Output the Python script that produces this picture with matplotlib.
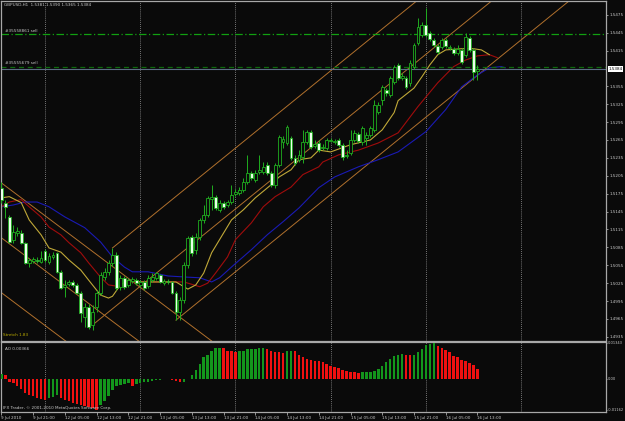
import numpy as np
import matplotlib
matplotlib.use("Agg")
import matplotlib.pyplot as plt
from matplotlib.transforms import blended_transform_factory

# GBPUSD H1 bars, 9 Jul 13:00 .. 16 Jul 13:00
opens = [1.5185, 1.5160, 1.5136, 1.5098, 1.5109, 1.5109, 1.5093, 1.5059, 1.5062, 1.5064,
         1.5061, 1.5079, 1.5061, 1.5069, 1.5076, 1.5044, 1.5019, 1.5024, 1.5027, 1.5022,
         1.5009, 1.4968, 1.4985, 1.4955, 1.4985, 1.5009, 1.5035, 1.5044, 1.5059, 1.5072,
         1.5019, 1.5034, 1.5022, 1.5029, 1.5030, 1.5022, 1.5027, 1.5020, 1.5030, 1.5034,
         1.5039, 1.5025, 1.5029, 1.5027, 1.5009, 1.4977, 1.4997, 1.5056, 1.5103, 1.5081,
         1.5103, 1.5131, 1.5139, 1.5166, 1.5170, 1.5148, 1.5160, 1.5156, 1.5161, 1.5175,
         1.5176, 1.5181, 1.5195, 1.5210, 1.5198, 1.5212, 1.5212, 1.5223, 1.5210, 1.5190,
         1.5223, 1.5262, 1.5260, 1.5269, 1.5235, 1.5232, 1.5237, 1.5262, 1.5279, 1.5255,
         1.5260, 1.5252, 1.5252, 1.5264, 1.5262, 1.5265, 1.5257, 1.5238, 1.5243, 1.5265,
         1.5275, 1.5262, 1.5269, 1.5274, 1.5282, 1.5312, 1.5332, 1.5349, 1.5341, 1.5362,
         1.5391, 1.5369, 1.5369, 1.5361, 1.5388, 1.5428, 1.5441, 1.5458, 1.5445, 1.5433,
         1.5423, 1.5421, 1.5433, 1.5420, 1.5418, 1.5411, 1.5416, 1.5408, 1.5436, 1.5416,
         1.5381]
highs = [1.5195, 1.5165, 1.5139, 1.5123, 1.5119, 1.5114, 1.5094, 1.5067, 1.5069, 1.5069,
         1.5079, 1.5082, 1.5076, 1.5077, 1.5077, 1.5047, 1.5030, 1.5030, 1.5030, 1.5025,
         1.5012, 1.4992, 1.4990, 1.4989, 1.5014, 1.5044, 1.5051, 1.5064, 1.5084, 1.5077,
         1.5039, 1.5037, 1.5034, 1.5035, 1.5034, 1.5030, 1.5030, 1.5039, 1.5042, 1.5044,
         1.5041, 1.5032, 1.5032, 1.5029, 1.5012, 1.5001, 1.5061, 1.5104, 1.5106, 1.5109,
         1.5134, 1.5156, 1.5171, 1.5190, 1.5173, 1.5165, 1.5163, 1.5165, 1.5190, 1.5183,
         1.5186, 1.5201, 1.5240, 1.5213, 1.5215, 1.5240, 1.5228, 1.5228, 1.5213, 1.5227,
         1.5274, 1.5272, 1.5290, 1.5272, 1.5240, 1.5248, 1.5282, 1.5282, 1.5282, 1.5265,
         1.5265, 1.5259, 1.5269, 1.5269, 1.5267, 1.5269, 1.5260, 1.5248, 1.5282, 1.5282,
         1.5279, 1.5289, 1.5279, 1.5289, 1.5332, 1.5329, 1.5357, 1.5352, 1.5373, 1.5391,
         1.5394, 1.5378, 1.5373, 1.5399, 1.5428, 1.5470, 1.5463, 1.5487, 1.5448, 1.5436,
         1.5426, 1.5436, 1.5436, 1.5425, 1.5421, 1.5425, 1.5420, 1.5445, 1.5440, 1.5420,
         1.5390]
lows = [1.5160, 1.5134, 1.5093, 1.5093, 1.5104, 1.5091, 1.5057, 1.5052, 1.5059, 1.5059,
        1.5059, 1.5061, 1.5057, 1.5066, 1.5042, 1.5015, 1.5002, 1.5020, 1.5019, 1.5007,
        1.4960, 1.4952, 1.4948, 1.4947, 1.4977, 1.5005, 1.5030, 1.5039, 1.5054, 1.5014,
        1.5014, 1.5015, 1.5019, 1.5025, 1.5022, 1.5019, 1.5014, 1.5017, 1.5027, 1.5030,
        1.5025, 1.5022, 1.5024, 1.5007, 1.4963, 1.4963, 1.4992, 1.5051, 1.5071, 1.5074,
        1.5098, 1.5126, 1.5136, 1.5148, 1.5148, 1.5144, 1.5150, 1.5153, 1.5158, 1.5171,
        1.5173, 1.5178, 1.5191, 1.5198, 1.5195, 1.5208, 1.5208, 1.5207, 1.5186, 1.5185,
        1.5220, 1.5252, 1.5257, 1.5232, 1.5223, 1.5228, 1.5227, 1.5259, 1.5250, 1.5252,
        1.5245, 1.5248, 1.5248, 1.5262, 1.5259, 1.5254, 1.5232, 1.5235, 1.5240, 1.5262,
        1.5260, 1.5257, 1.5257, 1.5270, 1.5279, 1.5309, 1.5324, 1.5339, 1.5337, 1.5359,
        1.5366, 1.5366, 1.5351, 1.5356, 1.5384, 1.5425, 1.5438, 1.5438, 1.5431, 1.5421,
        1.5409, 1.5418, 1.5420, 1.5416, 1.5408, 1.5408, 1.5393, 1.5404, 1.5413, 1.5366,
        1.5365]
closes = [1.5165, 1.5153, 1.5094, 1.5111, 1.5113, 1.5093, 1.5059, 1.5064, 1.5066, 1.5062,
          1.5067, 1.5064, 1.5071, 1.5072, 1.5044, 1.5017, 1.5022, 1.5027, 1.5022, 1.5009,
          1.4975, 1.4985, 1.4952, 1.4977, 1.5009, 1.5039, 1.5044, 1.5059, 1.5072, 1.5017,
          1.5034, 1.5019, 1.5030, 1.5032, 1.5025, 1.5027, 1.5017, 1.5034, 1.5035, 1.5042,
          1.5027, 1.5029, 1.5027, 1.5009, 1.4977, 1.4997, 1.5056, 1.5101, 1.5076, 1.5103,
          1.5131, 1.5139, 1.5168, 1.5170, 1.5151, 1.5160, 1.5153, 1.5161, 1.5173, 1.5178,
          1.5181, 1.5195, 1.5210, 1.5201, 1.5210, 1.5215, 1.5220, 1.5210, 1.5190, 1.5223,
          1.5270, 1.5266, 1.5287, 1.5235, 1.5227, 1.5240, 1.5262, 1.5279, 1.5254, 1.5259,
          1.5248, 1.5254, 1.5265, 1.5265, 1.5264, 1.5257, 1.5237, 1.5240, 1.5265, 1.5277,
          1.5264, 1.5285, 1.5274, 1.5285, 1.5324, 1.5324, 1.5354, 1.5344, 1.5369, 1.5388,
          1.5369, 1.5373, 1.5354, 1.5394, 1.5425, 1.5455, 1.5458, 1.5441, 1.5435, 1.5425,
          1.5413, 1.5433, 1.5423, 1.5421, 1.5411, 1.5418, 1.5396, 1.5438, 1.5416, 1.5379,
          1.5384]

# Awesome oscillator values per bar
ao = [0.0019, 0.0015, -0.0011, -0.0015, -0.0027, -0.0038, -0.0053, -0.0061, -0.0065, -0.0072,
      -0.0076, -0.0080, -0.0072, -0.0068, -0.0061, -0.0072, -0.0080, -0.0084, -0.0091, -0.0095,
      -0.0099, -0.0103, -0.0105, -0.0108, -0.0116, -0.0099, -0.0084, -0.0065, -0.0042, -0.0027,
      -0.0023, -0.0019, -0.0017, -0.0027, -0.0019, -0.0015, -0.0011, -0.0010, -0.0008, -0.0006,
      -0.0004, -0.0002, 0.0001, -0.0004, -0.0008, -0.0011, -0.0010, 0.0001, 0.0015, 0.0034,
      0.0057, 0.0080, 0.0091, 0.0103, 0.0114, 0.0115, 0.0114, 0.0106, 0.0104, 0.0102,
      0.0104, 0.0106, 0.0110, 0.0111, 0.0112, 0.0114, 0.0115, 0.0110, 0.0103, 0.0100,
      0.0099, 0.0098, 0.0103, 0.0106, 0.0103, 0.0091, 0.0080, 0.0076, 0.0070, 0.0068,
      0.0067, 0.0065, 0.0057, 0.0049, 0.0046, 0.0042, 0.0034, 0.0030, 0.0027, 0.0026,
      0.0023, 0.0025, 0.0026, 0.0027, 0.0030, 0.0038, 0.0049, 0.0065, 0.0076, 0.0087,
      0.0091, 0.0092, 0.0089, 0.0088, 0.0091, 0.0099, 0.0110, 0.0125, 0.0130, 0.0134,
      0.0124, 0.0116, 0.0108, 0.0099, 0.0087, 0.0080, 0.0072, 0.0067, 0.0061, 0.0053,
      0.00366]

# Alligator lines (shifted forward past last bar)
lips_idx = [0, 2, 5, 7, 10, 12, 15, 17, 20, 22, 25, 27, 28, 30, 32, 35, 40, 44, 46, 47,
            49, 51, 53, 56, 58, 61, 64, 68, 70, 73, 75, 78, 80, 83, 88, 93, 96, 99, 100, 104,
            106, 108, 110, 112, 116, 119, 121, 123]
lips_val = [1.5168, 1.5170, 1.5160, 1.5131, 1.5106, 1.5084, 1.5077, 1.5064, 1.5047, 1.5030,
            1.5005, 1.5000, 1.5003, 1.5022, 1.5030, 1.5027, 1.5027, 1.5027, 1.5019, 1.5015,
            1.5022, 1.5042, 1.5076, 1.5109, 1.5131, 1.5148, 1.5168, 1.5190, 1.5203, 1.5215,
            1.5232, 1.5235, 1.5248, 1.5245, 1.5257, 1.5265, 1.5282, 1.5311, 1.5331, 1.5352,
            1.5371, 1.5391, 1.5408, 1.5416, 1.5418, 1.5418, 1.5416, 1.5408]
teeth_idx = [0, 2, 5, 7, 10, 12, 15, 17, 20, 22, 25, 27, 30, 32, 35, 46, 50, 52, 54, 57,
             59, 63, 66, 69, 73, 76, 80, 81, 85, 90, 95, 100, 105, 110, 114, 117, 120, 123, 125]
teeth_val = [1.5153, 1.5161, 1.5165, 1.5153, 1.5136, 1.5119, 1.5106, 1.5093, 1.5076, 1.5059,
             1.5035, 1.5022, 1.5019, 1.5027, 1.5027, 1.5027, 1.5019, 1.5025, 1.5042, 1.5069,
             1.5098, 1.5126, 1.5153, 1.5170, 1.5186, 1.5207, 1.5220, 1.5228, 1.5240, 1.5248,
             1.5260, 1.5277, 1.5321, 1.5361, 1.5388, 1.5399, 1.5406, 1.5408, 1.5403]
jaw_idx = [0, 3, 6, 9, 12, 16, 21, 25, 28, 31, 33, 37, 42, 47, 50, 53, 55, 58, 63, 67,
           71, 75, 80, 84, 90, 95, 100, 107, 112, 116, 120, 123, 126, 127]
jaw_val = [1.5153, 1.5156, 1.5161, 1.5161, 1.5153, 1.5136, 1.5118, 1.5094, 1.5069, 1.5052,
           1.5044, 1.5044, 1.5037, 1.5035, 1.5034, 1.5027, 1.5034, 1.5052, 1.5081, 1.5106,
           1.5128, 1.5151, 1.5185, 1.5203, 1.5220, 1.5232, 1.5245, 1.5279, 1.5316, 1.5354,
           1.5374, 1.5386, 1.5388, 1.5386]

# channel lines: descending (price at bar 0) and rising rays from pivots
down_start = [1.5193, 1.5101, 1.5009]
down_slope = -0.0005
up_start_idx = [23, 28, 44]
up_start_val = [1.4955, 1.5084, 1.4963]
up_slope = 0.00054

orders = [("#35558861 sell", 1.5443, "#11a011", (0, (6, 2, 1, 2))),
          ("#35555679 sell", 1.5388, "#0d6a0d", (0, (4, 3)))]
bid = 1.5384

price_ticks = [1.5475, 1.5445, 1.5415, 1.5355, 1.5325, 1.5295, 1.5265, 1.5235, 1.5205,
               1.5175, 1.5145, 1.5115, 1.5085, 1.5055, 1.5025, 1.4995, 1.4965, 1.4935]
ao_ticks = [0.01343, 0.0, -0.01162]
ao_tick_lbl = ["0.01343", "0.00", "-0.01162"]
day_lines = [11, 35, 59, 83, 107, 131]
time_idx = [0, 8, 16, 24, 32, 40, 48, 56, 64, 72, 80, 88, 96, 104, 112, 120]
time_lbl = ["9 Jul 2010", "9 Jul 21:00", "12 Jul 05:00", "12 Jul 13:00", "12 Jul 21:00",
            "13 Jul 05:00", "13 Jul 13:00", "13 Jul 21:00", "14 Jul 05:00", "14 Jul 13:00",
            "14 Jul 21:00", "15 Jul 05:00", "15 Jul 13:00", "15 Jul 21:00", "16 Jul 05:00",
            "16 Jul 13:00"]

BG = "#0a0a0a"
FRAME = "#a8a8a8"
TXT = "#c8c8c8"
CANDLE = "#1fae1f"
FS = 3.0

W, H = 625, 421
fig = plt.figure(figsize=(W / 100, H / 100), dpi=100, facecolor=BG)
ax = fig.add_axes([1 / W, (H - 341) / H, 605 / W, 340 / H], facecolor=BG)
ax2 = fig.add_axes([1 / W, (H - 412) / H, 605 / W, 70 / H], facecolor=BG, sharex=ax)

o = np.array(opens)
c = np.array(closes)
idx = np.arange(len(o))

# candles
ax.vlines(idx, lows, highs, color=CANDLE, lw=0.7, zorder=3)
faces = np.where(c >= o, "#0a0a0a", "#eaffea")
ax.bar(idx, np.abs(c - o), bottom=np.minimum(o, c), width=0.72, color=faces,
       edgecolor=CANDLE, linewidth=0.6, zorder=4)

# alligator
ax.plot(jaw_idx, jaw_val, color="#1a1ab4", lw=0.8, zorder=2)
ax.plot(teeth_idx, teeth_val, color="#a00c0c", lw=0.8, zorder=2)
ax.plot(lips_idx, lips_val, color="#c0a838", lw=0.8, zorder=2)

# channels
xs = np.array([-5, 160])
for v in down_start:
    ax.plot(xs, v + down_slope * xs, color="#b0702c", lw=0.7, zorder=1)
for s, v in zip(up_start_idx, up_start_val):
    xe = np.array([s, 160])
    ax.plot(xe, v + up_slope * (xe - s), color="#b0702c", lw=0.7, zorder=1)

# day separators
for a in (ax, ax2):
    for d in day_lines:
        a.axvline(d, color="#9a9a9a", lw=0.6, ls=(0, (1, 1.5)), zorder=0)

# order lines and bid line
trans = blended_transform_factory(ax.transAxes, ax.transData)
for label, lvl, col, ls in orders:
    ax.axhline(lvl, color=col, lw=0.9, ls=ls, zorder=2)
    ax.text(0.006, lvl + 0.0002, label, transform=trans, fontsize=FS, color=TXT,
            va="bottom", ha="left")
ax.axhline(bid, color="#5c6c84", lw=0.8, zorder=2)
ax.text(1.004, bid, "%.4f" % bid, transform=trans, fontsize=FS, color="#000000",
        va="center", ha="left", clip_on=False,
        bbox=dict(boxstyle="square,pad=0.15", fc="#ffffff", ec="none"))

ax.set_xlim(-0.1, 152.4)
ax.set_ylim(1.4928, 1.5498)
ax.yaxis.tick_right()
ax.set_yticks(price_ticks)
ax.set_yticklabels(["%.4f" % t for t in price_ticks])
ax.tick_params(axis="y", labelsize=FS, colors=TXT, length=1.5, width=0.5, pad=0.8)
ax.tick_params(axis="x", bottom=False, labelbottom=False)

# AO histogram
ao_arr = np.array(ao)
up = np.r_[True, ao_arr[1:] > ao_arr[:-1]]
ax2.bar(idx, ao_arr, width=0.62, color=np.where(up, "#13961c", "#f01010"), zorder=3)
ax2.set_ylim(-0.0124, 0.0138)
ax2.yaxis.tick_right()
ax2.set_yticks(ao_ticks)
ax2.set_yticklabels(ao_tick_lbl)
ax2.tick_params(axis="y", labelsize=2.6, colors=TXT, length=1.0, width=0.5, pad=0.5)
ax2.set_xticks(time_idx)
ax2.set_xticklabels(time_lbl, ha="left")
ax2.tick_params(axis="x", labelsize=FS, colors=TXT, length=2, width=0.5, pad=1)

for a in (ax, ax2):
    for sp in a.spines.values():
        sp.set_color(FRAME)
        sp.set_linewidth(0.9)

fig.text(4 / W, 1 - 5 / H, "GBPUSD,H1  1.5381 1.5390 1.5365 1.5384", fontsize=FS,
         color=TXT, va="center", ha="left")
fig.text(3 / W, 1 - 335 / H, "Stretch 1.83", fontsize=FS, color="#c0b000",
         va="center", ha="left")
fig.text(5 / W, 1 - 349 / H, "AO 0.00366", fontsize=FS, color=TXT, va="center", ha="left")
fig.text(3 / W, 1 - 408 / H, "IFX Trader, \u00a9 2001-2010 MetaQuotes Software Corp.",
         fontsize=FS, color=TXT, va="center", ha="left")

fig.savefig("out.png", dpi=100, facecolor=BG)
